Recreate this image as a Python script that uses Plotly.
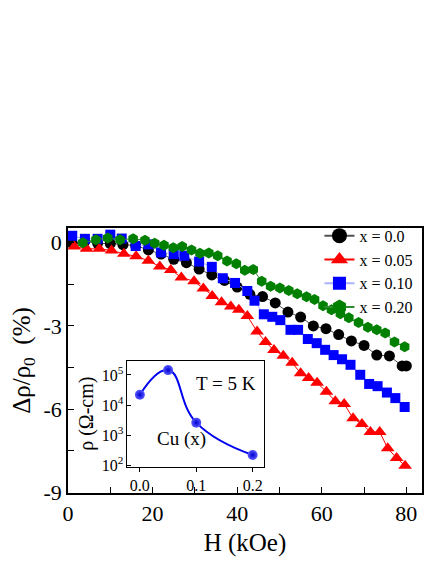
import plotly.graph_objects as go

# main panel: magnetoresistance vs field
h_00 = [1, 4, 7, 10, 13, 16, 19, 22, 25, 28, 31, 34, 37, 40, 43, 46, 49, 52, 55, 58,
        61, 64, 67, 70, 73, 76, 79, 80]
mr_00 = [-0.02, 0.05, -0.02, -0.03, -0.07, -0.1, -0.26, -0.41, -0.6, -0.72, -0.95, -1.16,
         -1.36, -1.6, -1.86, -1.94, -2.17, -2.5, -2.68, -3.0, -3.1, -3.31, -3.54, -3.7,
         -4.05, -4.08, -4.44, -4.44]

h_05 = [1.5, 4.4, 7.4, 10.3, 13.2, 16.1, 19, 21.7, 24.3, 26.8, 29.8, 32, 34.1, 36.3, 38.5,
        40.4, 42.4, 44.7, 46.7, 48.7, 50.9, 53, 55, 56.9, 58.9, 61.1, 63.2, 65.3, 67.4,
        69.5, 71.5, 73.7, 75.6, 77.7, 79.7]
mr_05 = [-0.14, -0.22, -0.22, -0.28, -0.4, -0.49, -0.65, -0.86, -0.98, -1.25, -1.39, -1.65,
         -1.92, -2.15, -2.3, -2.42, -2.64, -3.2, -3.58, -3.87, -4.07, -4.33, -4.7, -4.88,
         -5.05, -5.37, -5.71, -5.81, -6.33, -6.53, -6.82, -6.82, -7.41, -7.76, -8.04]

h_10 = [1, 4, 7, 10, 12.7, 16, 19, 22, 25, 27.5, 31, 34, 36.6, 39.5, 42.4, 44.1, 46.3,
        48.3, 50.2, 52.6, 54.4, 56.7, 58.8, 60.8, 62.8, 64.8, 66.8, 69.1, 71.2, 73.2,
        75.4, 77.4, 79.6]
mr_10 = [0.25, 0.14, 0.14, 0.29, 0.15, -0.12, -0.06, -0.35, -0.41, -0.47, -0.68, -0.87,
         -1.28, -1.45, -1.74, -2.09, -2.58, -2.67, -2.79, -3.14, -3.14, -3.47, -3.62,
         -3.86, -4.05, -4.2, -4.4, -4.76, -5.09, -5.17, -5.4, -5.6, -5.92]

h_20 = [3.5, 6.6, 9.4, 12.3, 15.4, 18.2, 20.5, 22.7, 24.9, 27, 29.2, 31.2, 33.3, 35.4,
        37.6, 39.8, 41.8, 43.8, 45.8, 47.9, 50.1, 52.2, 54.2, 56.4, 58.3, 60.3, 62.3,
        64.4, 66.4, 68.7, 70.9, 73, 75, 77.2, 79.6]
mr_20 = [0.0, 0.11, 0.17, 0.11, 0.14, 0.09, -0.02, -0.09, -0.18, -0.14, -0.26, -0.38,
         -0.37, -0.47, -0.66, -0.76, -0.99, -0.97, -1.39, -1.57, -1.63, -1.72, -1.84,
         -1.95, -2.05, -2.27, -2.42, -2.56, -2.7, -2.88, -3.05, -3.14, -3.25, -3.58, -3.75]

# inset: resistivity at 5 K vs Cu content
cu_x = [0.0, 0.05, 0.1, 0.2]
rho = [2.2e4, 1.45e5, 2.6e3, 2.2e2]

FONT = "Liberation Serif, Times New Roman, serif"

fig = go.Figure()

series = [
    ("x = 0.0", h_00, mr_00, "circle", "black", "#505050", 11, 15),
    ("x = 0.05", h_05, mr_05, "triangle-up", "#ff0000", "#ff0000", 12, 15),
    ("x = 0.10", h_10, mr_10, "square", "#0000ff", "#aab2ff", 10, 13),
    ("x = 0.20", h_20, mr_20, "hexagon", "#008000", "#2e8b2e", 11, 15),
]

for name, hx, mr, sym, col, lcol, size, lsize in series:
    fig.add_trace(go.Scatter(
        x=hx, y=mr, name=name, mode="lines+markers", showlegend=False,
        line=dict(color=lcol, width=1),
        marker=dict(symbol=sym, color=col, size=size, line=dict(width=0)),
    ))
    # legend entry with the heavier line / bigger symbol of the original
    fig.add_trace(go.Scatter(
        x=[None], y=[None], name=name, mode="lines+markers",
        line=dict(color=lcol, width=2),
        marker=dict(symbol=sym, color=col, size=lsize, line=dict(width=0)),
    ))

# inset curve + points
fig.add_trace(go.Scatter(
    x=cu_x, y=rho, mode="lines", showlegend=False,
    line=dict(color="#0000ee", width=2, shape="spline", smoothing=1.3),
    xaxis="x2", yaxis="y2",
))
fig.add_trace(go.Scatter(
    x=cu_x, y=rho, mode="markers", showlegend=False,
    marker=dict(size=10, color="#5a5aff",
                gradient=dict(type="radial", color="#0000d0"),
                line=dict(width=0)),
    xaxis="x2", yaxis="y2",
))

# page body has an 8px margin, so the figure is shifted by 8px
fig.update_layout(
    width=428, height=556,
    margin=dict(l=59, r=14, t=220, b=62),
    paper_bgcolor="white", plot_bgcolor="white",
    font=dict(family=FONT, color="black"),
    showlegend=True,
    legend=dict(x=0.99, y=1.035, xanchor="right", yanchor="top",
                bgcolor="rgba(0,0,0,0)", font=dict(size=16, family=FONT),
                tracegroupgap=0, itemwidth=30),
    xaxis=dict(
        range=[0, 83.7], tickvals=[0, 20, 40, 60, 80],
        ticks="inside", ticklen=6, tickwidth=1.2, tickcolor="black",
        minor=dict(tickvals=[10, 30, 50, 70], ticks="inside", ticklen=6,
                   tickwidth=1.2, tickcolor="black"),
        showline=True, linecolor="black", linewidth=1.5, mirror=True,
        showgrid=False, zeroline=False,
        tickfont=dict(size=22, family=FONT),
        title=dict(text="H (kOe)", font=dict(size=25, family=FONT), standoff=8),
    ),
    yaxis=dict(
        range=[-9.02, 0.53], tickvals=[0, -3, -6, -9],
        ticktext=["0", "-3", "-6", "-9"],
        ticks="inside", ticklen=6, tickwidth=1.2, tickcolor="black",
        minor=dict(tickvals=[-1.5, -4.5, -7.5], ticks="inside", ticklen=6,
                   tickwidth=1.2, tickcolor="black"),
        showline=True, linecolor="black", linewidth=1.5, mirror=True,
        showgrid=False, zeroline=False,
        tickfont=dict(size=22, family=FONT),
        title=dict(text="Δρ/ρ<sub>0</sub>  (%)", font=dict(size=25, family=FONT),
                   standoff=6),
    ),
    xaxis2=dict(
        domain=[0.168, 0.555], anchor="y2", range=[-0.022, 0.221],
        tickvals=[0, 0.1, 0.2], ticktext=["0.0", "0.1", "0.2"],
        ticks="outside", ticklen=4, tickcolor="black",
        showline=True, linecolor="black", linewidth=1, mirror=True,
        showgrid=False, zeroline=False,
        tickfont=dict(size=16, family=FONT),
    ),
    yaxis2=dict(
        domain=[0.0985, 0.5], anchor="x2", type="log", range=[1.945, 5.48],
        tickvals=[1e2, 1e3, 1e4, 1e5],
        ticktext=["10<sup>2</sup>", "10<sup>3</sup>", "10<sup>4</sup>", "10<sup>5</sup>"],
        ticks="inside", ticklen=4, tickcolor="black",
        showline=True, linecolor="black", linewidth=1, mirror=True,
        showgrid=False, zeroline=False,
        tickfont=dict(size=16, family=FONT),
        title=dict(text="ρ (Ω-cm)", font=dict(size=20, family=FONT), standoff=2),
    ),
    annotations=[
        dict(text="T = 5 K", xref="x2", yref="paper", x=0.152, y=0.415,
             showarrow=False, font=dict(size=19, family=FONT)),
        dict(text="Cu (x)", xref="x2", yref="paper", x=0.074, y=0.155,
             showarrow=False, font=dict(size=19, family=FONT)),
    ],
)

fig.write_html("out.html")
